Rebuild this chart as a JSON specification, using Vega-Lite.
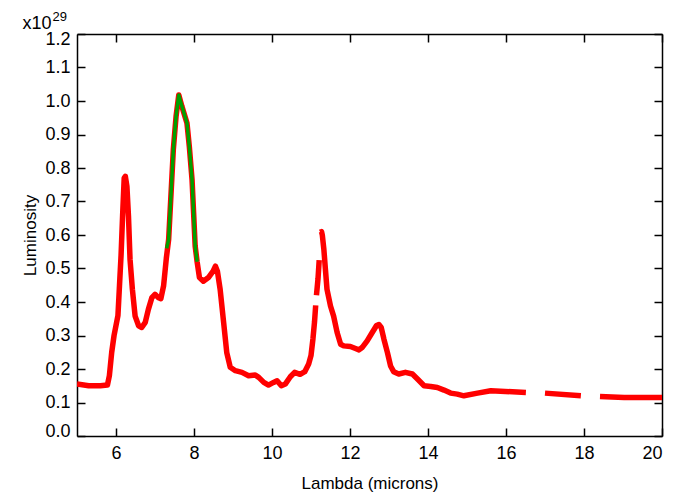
{
  "$schema": "https://vega.github.io/schema/vega-lite/v6.json",
  "width": 585,
  "height": 402,
  "autosize": {"type": "none"},
  "padding": {"left": 77, "top": 34, "right": 11, "bottom": 58},
  "background": "white",
  "config": {
    "font": "Liberation Sans",
    "view": {"stroke": null},
    "axis": {
      "grid": false,
      "domainColor": "black",
      "domainWidth": 1.5,
      "tickColor": "black",
      "tickWidth": 1.5,
      "tickSize": -8,
      "labelColor": "black",
      "labelFontSize": 18,
      "titleColor": "black",
      "titleFontSize": 17,
      "titleFontWeight": "normal"
    }
  },
  "datasets": {
    "red": [
      {"x": 5.0, "y": 0.155, "seg": 1}, {"x": 5.3, "y": 0.15, "seg": 1}, {"x": 5.6, "y": 0.15, "seg": 1},
      {"x": 5.78, "y": 0.152, "seg": 1}, {"x": 5.83, "y": 0.18, "seg": 1}, {"x": 5.89, "y": 0.25, "seg": 1},
      {"x": 5.95, "y": 0.3, "seg": 1}, {"x": 6.0, "y": 0.33, "seg": 1}, {"x": 6.05, "y": 0.36, "seg": 1},
      {"x": 6.09, "y": 0.45, "seg": 1}, {"x": 6.13, "y": 0.54, "seg": 1}, {"x": 6.17, "y": 0.66, "seg": 1},
      {"x": 6.21, "y": 0.77, "seg": 1}, {"x": 6.24, "y": 0.775, "seg": 1}, {"x": 6.28, "y": 0.745, "seg": 1},
      {"x": 6.32, "y": 0.656, "seg": 1}, {"x": 6.36, "y": 0.527, "seg": 1}, {"x": 6.42, "y": 0.438, "seg": 1},
      {"x": 6.49, "y": 0.358, "seg": 1}, {"x": 6.58, "y": 0.329, "seg": 1}, {"x": 6.66, "y": 0.324, "seg": 1},
      {"x": 6.75, "y": 0.339, "seg": 1}, {"x": 6.83, "y": 0.378, "seg": 1}, {"x": 6.92, "y": 0.413, "seg": 1},
      {"x": 7.0, "y": 0.423, "seg": 1}, {"x": 7.09, "y": 0.413, "seg": 1}, {"x": 7.15, "y": 0.41, "seg": 1},
      {"x": 7.22, "y": 0.448, "seg": 1}, {"x": 7.29, "y": 0.53, "seg": 1}, {"x": 7.35, "y": 0.587, "seg": 1},
      {"x": 7.43, "y": 0.765, "seg": 1}, {"x": 7.47, "y": 0.855, "seg": 1}, {"x": 7.54, "y": 0.954, "seg": 1},
      {"x": 7.61, "y": 1.018, "seg": 1}, {"x": 7.69, "y": 0.984, "seg": 1}, {"x": 7.82, "y": 0.934, "seg": 1},
      {"x": 7.88, "y": 0.864, "seg": 1}, {"x": 7.95, "y": 0.765, "seg": 1}, {"x": 7.99, "y": 0.666, "seg": 1},
      {"x": 8.03, "y": 0.567, "seg": 1}, {"x": 8.08, "y": 0.52, "seg": 1}, {"x": 8.14, "y": 0.473, "seg": 1},
      {"x": 8.24, "y": 0.462, "seg": 1}, {"x": 8.37, "y": 0.473, "seg": 1}, {"x": 8.49, "y": 0.492, "seg": 1},
      {"x": 8.55, "y": 0.507, "seg": 1}, {"x": 8.6, "y": 0.492, "seg": 1}, {"x": 8.67, "y": 0.438, "seg": 1},
      {"x": 8.76, "y": 0.339, "seg": 1}, {"x": 8.84, "y": 0.249, "seg": 1}, {"x": 8.93, "y": 0.205, "seg": 1},
      {"x": 9.06, "y": 0.195, "seg": 1}, {"x": 9.23, "y": 0.19, "seg": 1}, {"x": 9.4, "y": 0.18, "seg": 1},
      {"x": 9.57, "y": 0.182, "seg": 1}, {"x": 9.66, "y": 0.175, "seg": 1}, {"x": 9.79, "y": 0.16, "seg": 1},
      {"x": 9.91, "y": 0.152, "seg": 1}, {"x": 10.04, "y": 0.16, "seg": 1}, {"x": 10.13, "y": 0.165, "seg": 1},
      {"x": 10.24, "y": 0.15, "seg": 1}, {"x": 10.34, "y": 0.155, "seg": 1}, {"x": 10.47, "y": 0.177, "seg": 1},
      {"x": 10.58, "y": 0.19, "seg": 1}, {"x": 10.72, "y": 0.184, "seg": 1}, {"x": 10.84, "y": 0.192, "seg": 1},
      {"x": 10.94, "y": 0.215, "seg": 1}, {"x": 11.0, "y": 0.24, "seg": 1}, {"x": 11.05, "y": 0.29, "seg": 1},
      {"x": 11.09, "y": 0.34, "seg": 1}, {"x": 11.12, "y": 0.39, "seg": 1},
      {"x": 11.14, "y": 0.42, "seg": 2}, {"x": 11.18, "y": 0.47, "seg": 2}, {"x": 11.21, "y": 0.525, "seg": 2},
      {"x": 11.235, "y": 0.608, "seg": 3}, {"x": 11.27, "y": 0.61, "seg": 3}, {"x": 11.29, "y": 0.6, "seg": 3},
      {"x": 11.33, "y": 0.557, "seg": 3}, {"x": 11.37, "y": 0.497, "seg": 3}, {"x": 11.41, "y": 0.438, "seg": 3},
      {"x": 11.5, "y": 0.388, "seg": 3}, {"x": 11.58, "y": 0.358, "seg": 3}, {"x": 11.67, "y": 0.309, "seg": 3},
      {"x": 11.76, "y": 0.274, "seg": 3}, {"x": 11.84, "y": 0.269, "seg": 3}, {"x": 12.01, "y": 0.267, "seg": 3},
      {"x": 12.14, "y": 0.261, "seg": 3}, {"x": 12.23, "y": 0.257, "seg": 3}, {"x": 12.31, "y": 0.264, "seg": 3},
      {"x": 12.44, "y": 0.284, "seg": 3}, {"x": 12.57, "y": 0.309, "seg": 3}, {"x": 12.68, "y": 0.33, "seg": 3},
      {"x": 12.74, "y": 0.333, "seg": 3}, {"x": 12.8, "y": 0.324, "seg": 3}, {"x": 12.87, "y": 0.289, "seg": 3},
      {"x": 12.96, "y": 0.249, "seg": 3}, {"x": 13.04, "y": 0.209, "seg": 3}, {"x": 13.12, "y": 0.192, "seg": 3},
      {"x": 13.25, "y": 0.185, "seg": 3}, {"x": 13.42, "y": 0.19, "seg": 3}, {"x": 13.6, "y": 0.185, "seg": 3},
      {"x": 13.73, "y": 0.17, "seg": 3}, {"x": 13.9, "y": 0.15, "seg": 3}, {"x": 14.07, "y": 0.148, "seg": 3},
      {"x": 14.24, "y": 0.145, "seg": 3}, {"x": 14.41, "y": 0.137, "seg": 3}, {"x": 14.58, "y": 0.128, "seg": 3},
      {"x": 14.75, "y": 0.125, "seg": 3}, {"x": 14.92, "y": 0.12, "seg": 3}, {"x": 15.27, "y": 0.128, "seg": 3},
      {"x": 15.61, "y": 0.135, "seg": 3}, {"x": 16.51, "y": 0.13, "seg": 3},
      {"x": 17.0, "y": 0.128, "seg": 4}, {"x": 17.92, "y": 0.12, "seg": 4},
      {"x": 18.41, "y": 0.118, "seg": 5}, {"x": 19.03, "y": 0.115, "seg": 5}, {"x": 20.0, "y": 0.115, "seg": 5}
    ],
    "green": [
      {"x": 7.3, "y": 0.56}, {"x": 7.35, "y": 0.587}, {"x": 7.43, "y": 0.765}, {"x": 7.47, "y": 0.855},
      {"x": 7.54, "y": 0.954}, {"x": 7.61, "y": 1.018}, {"x": 7.69, "y": 0.984}, {"x": 7.82, "y": 0.934},
      {"x": 7.88, "y": 0.864}, {"x": 7.95, "y": 0.765}, {"x": 7.99, "y": 0.666}, {"x": 8.03, "y": 0.567},
      {"x": 8.08, "y": 0.52}
    ]
  },
  "layer": [
    {
      "data": {"name": "red"},
      "mark": {"type": "line", "color": "#ff0000", "strokeWidth": 5.5, "strokeCap": "butt", "strokeJoin": "round", "clip": true},
      "encoding": {
        "x": {
          "field": "x", "type": "quantitative",
          "scale": {"domain": [5, 20], "nice": false, "zero": false},
          "axis": {"orient": "bottom", "title": "Lambda (microns)", "values": [6, 8, 10, 12, 14, 16, 18, 20], "labelPadding": 16, "titlePadding": 13}
        },
        "y": {
          "field": "y", "type": "quantitative",
          "scale": {"domain": [0, 1.2], "nice": false, "zero": false},
          "axis": {"orient": "left", "title": "Luminosity", "values": [0, 0.1, 0.2, 0.3, 0.4, 0.5, 0.6, 0.7, 0.8, 0.9, 1.0, 1.1, 1.2], "format": ".1f", "labelFlush": true, "labelFlushOffset": 4, "labelPadding": 15, "titlePadding": 5}
        },
        "detail": {"field": "seg", "type": "nominal"}
      }
    },
    {
      "data": {"name": "green"},
      "mark": {"type": "line", "color": "#00a000", "strokeWidth": 3.5, "strokeCap": "butt", "strokeJoin": "round", "clip": true},
      "encoding": {
        "x": {
          "field": "x", "type": "quantitative",
          "axis": {"orient": "top", "title": "29", "titleFontSize": 13, "titleX": -25, "titleY": -14, "titleAlign": "left", "titleBaseline": "alphabetic", "titleAngle": 0, "labels": false, "values": [6, 8, 10, 12, 14, 16, 18, 20]}
        },
        "y": {
          "field": "y", "type": "quantitative",
          "axis": {"orient": "right", "title": "x10", "titleFontSize": 18, "titleX": -640, "titleY": -6, "titleAlign": "left", "titleBaseline": "alphabetic", "titleAngle": 0, "labels": false, "values": [0, 0.1, 0.2, 0.3, 0.4, 0.5, 0.6, 0.7, 0.8, 0.9, 1.0, 1.1, 1.2]}
        }
      }
    }
  ],
  "resolve": {"axis": {"x": "independent", "y": "independent"}}
}
